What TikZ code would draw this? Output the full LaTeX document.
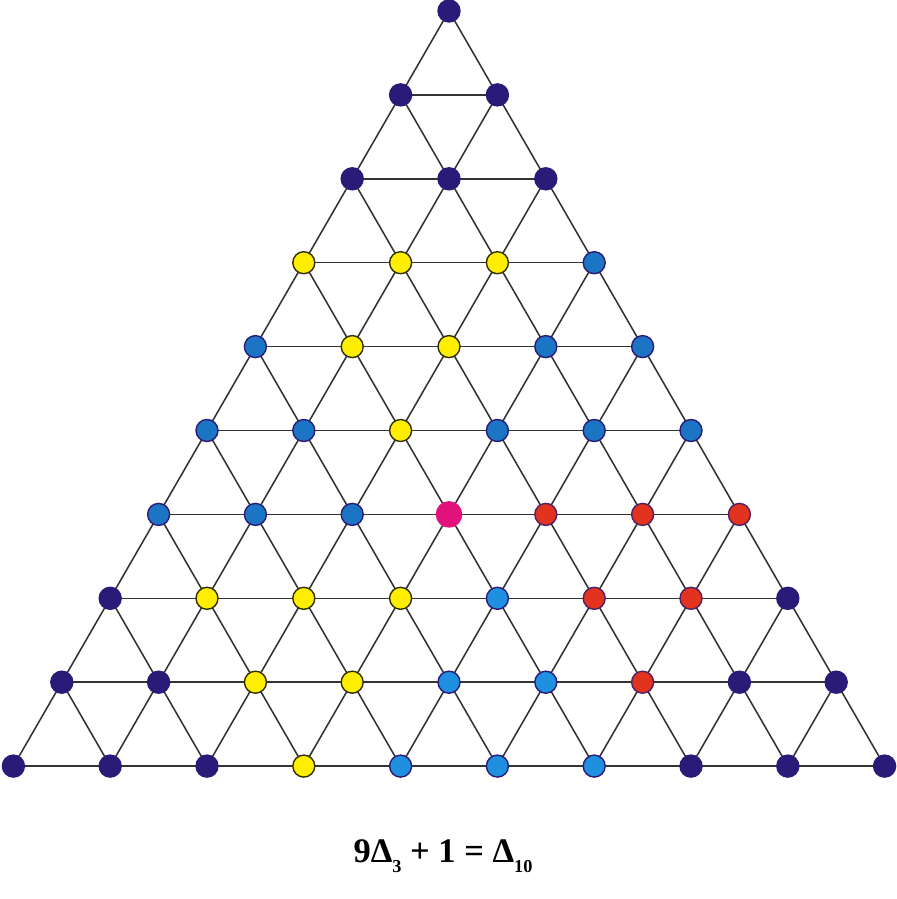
\documentclass[tikz,border=0pt]{standalone}
\usepackage{fontspec}
\setmainfont{Liberation Serif}
\usepackage{tikz}
\usetikzlibrary{positioning}
\definecolor{dnavy}{HTML}{2A1B78}
\definecolor{dyellow}{HTML}{FFEE00}
\definecolor{dblue}{HTML}{1C75C4}
\definecolor{dlblue}{HTML}{1F8FE0}
\definecolor{dred}{HTML}{E2331F}
\definecolor{dmag}{HTML}{E2127C}
\definecolor{lgrid}{HTML}{333333}
\newcommand{\lowsub}[1]{\raisebox{-0.3em}{\fontsize{13}{13}\selectfont #1}}
\tikzset{
  dot/.style={circle, inner sep=0pt, minimum size=5.5mm, line width=1pt},
  dotN/.style={dot, fill=dnavy, draw=dnavy},
  dotY/.style={dot, fill=dyellow, draw=black!80!dyellow},
  dotB/.style={dot, fill=dblue, draw=dnavy},
  dotL/.style={dot, fill=dlblue, draw=dnavy},
  dotR/.style={dot, fill=dred, draw=dnavy!80!dred},
  dotM/.style={dot, fill=dmag, draw=dmag, minimum size=6.3mm},
  grid/.style={draw=lgrid, line width=1.1pt},
  caption/.style={font=\fontsize{24.5}{28}\selectfont\bfseries},
}
\begin{document}
\begin{tikzpicture}[x=0.025cm, y=-0.025cm]
  \useasboundingbox (0,0) rectangle (896,899);
  % ---- lattice points, row by row ----
  \foreach \r/\cols in {0/{N},1/{N,N},2/{N,N,N},3/{Y,Y,Y,B},4/{B,Y,Y,B,B},
      5/{B,B,Y,B,B,B},6/{B,B,B,M,R,R,R},7/{N,Y,Y,Y,L,R,R,N},
      8/{N,N,Y,Y,L,L,R,N,N},9/{N,N,N,Y,L,L,L,N,N,N}}
    \foreach \c [count=\k from 0] in \cols
      \coordinate (p-\r-\k) at ({449+(\k-\r/2)*96.8}, {11+\r*83.9});

  % ---- grid lines ----
  \foreach \r in {1,...,9} \draw[grid] (p-\r-0) -- (p-\r-\r);
  \foreach \k in {0,...,8} \draw[grid] (p-\k-\k) -- (p-9-\k);
  \foreach \j [evaluate=\j as \e using int(9-\j)] in {0,...,8}
    \draw[grid] (p-\j-0) -- (p-9-\e);

  % ---- coloured dots ----
  \foreach \r/\cols in {0/{N},1/{N,N},2/{N,N,N},3/{Y,Y,Y,B},4/{B,Y,Y,B,B},
      5/{B,B,Y,B,B,B},6/{B,B,B,M,R,R,R},7/{N,Y,Y,Y,L,R,R,N},
      8/{N,N,Y,Y,L,L,R,N,N},9/{N,N,N,Y,L,L,L,N,N,N}}
    \foreach \c [count=\k from 0] in \cols
      \node[dot\c] (d-\r-\k) at (p-\r-\k) {};

  \node[caption] (eq) at (443,856) {9Δ\lowsub{3} + 1 = Δ\lowsub{10}};
\end{tikzpicture}
\end{document}
